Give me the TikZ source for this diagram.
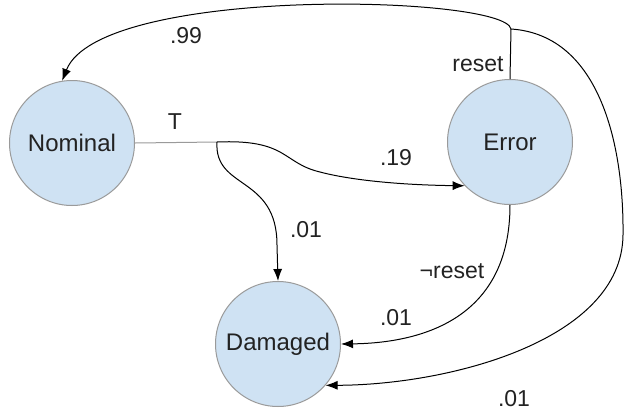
\documentclass[tikz,border=0pt]{standalone}
\usepackage{fontspec}
\setmainfont{Liberation Sans}
\usetikzlibrary{arrows.meta}
\definecolor{nodefill}{HTML}{CFE2F3}
\definecolor{nodeborder}{HTML}{9A9A9A}
\definecolor{txt}{HTML}{222222}
\begin{document}
\begin{tikzpicture}[x=1pt,y=-1pt,
  state/.style={circle,draw=nodeborder,line width=1pt,fill=nodefill,minimum size=125pt,inner sep=0pt,text=txt,font=\fontsize{24}{28}\selectfont},
  lbl/.style={text=txt,font=\fontsize{23}{27}\selectfont,inner sep=0pt},
  conn/.style={draw=black,line width=1pt},
  arr/.style={conn,-{Latex[length=12pt,width=9pt]}}]
\useasboundingbox (0,0) rectangle (625,413);
\node[state] (nom) at (72,143) {Nominal};
\node[state] (err) at (510,142) {Error};
\node[state] (dam) at (278,344) {Damaged};
\coordinate (j1) at (217,142);
\coordinate (j2) at (511,29);
% from Nominal
\draw[draw=nodeborder,line width=1pt] (nom.east) -- (j1);
\draw[arr] (j1) .. controls (288,139) and (282,163) .. (320,172) .. controls (350,180) and (400,185) .. (err.224);
\draw[arr] (j1) .. controls (214,190) and (277,175) .. (277,245) -- (dam.north);
% from Error top
\draw[conn] (err.north) -- (j2);
\draw[arr] (j2) .. controls (505,-5) and (100,-15) .. (nom.99);
\draw[arr] (j2) .. controls (602,35) and (624,150) .. (623,235) .. controls (622,340) and (450,385) .. (dam.319);
% from Error bottom
\draw[arr] (err.south) .. controls (510,320) and (420,343) .. (dam.east);
% labels
\node[lbl] (lT) at (175,122) {T};
\node[lbl] (l99) at (186,36) {.99};
\node[lbl] (lreset) at (478,64) {reset};
\node[lbl] (l19) at (396,158) {.19};
\node[lbl] (l01a) at (306,230) {.01};
\node[lbl] (lnreset) at (452,271) {¬reset};
\node[lbl] (l01b) at (396,318) {.01};
\node[lbl] (l01c) at (514,399) {.01};
\end{tikzpicture}
\end{document}
